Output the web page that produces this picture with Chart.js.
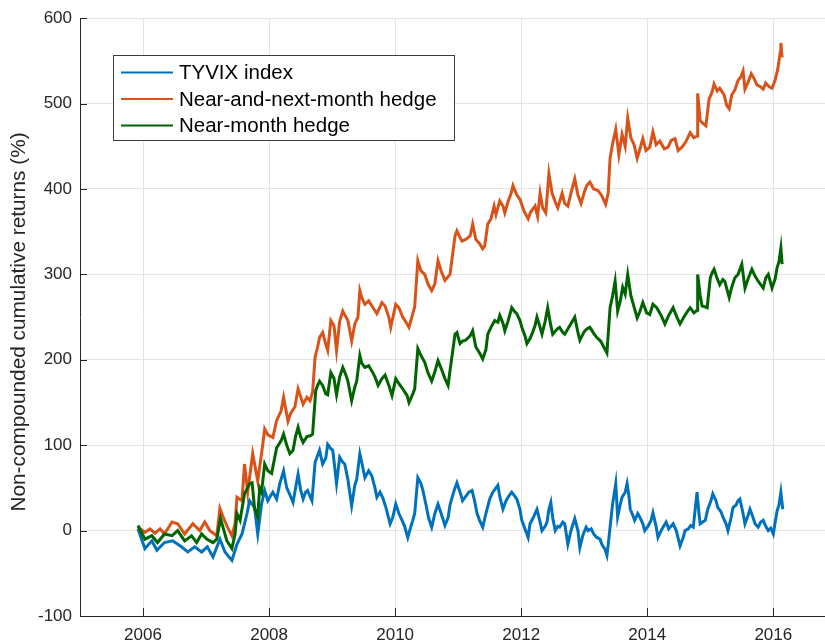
<!DOCTYPE html>
<html lang="en">
<head>
    <meta charset="UTF-8">
    <title>TYVIX hedges</title>
    <script src="https://cdn.jsdelivr.net/npm/chart.js"></script>
    <style>
        body { margin: 0; background: #fff; }
        #wrap { width: 825px; height: 641px; }
    </style>
</head>
<body>
    <div id="wrap"><canvas id="chart" width="825" height="641"></canvas></div>

    <script>
        // series labels and colours (legend order)
        const seriesLabels = ['TYVIX index', 'Near-and-next-month hedge', 'Near-month hedge'];
        const seriesColors = ['#0072BD', '#D95319', '#006400'];
        const tickYears = [2006, 2008, 2010, 2012, 2014, 2016];
        const yTitle = 'Non-compounded cumulative returns (%)';

        // [decimal year, cumulative return %]
        const tyvixSeries = [
            [2005.92, 2], [2006.03, -21], [2006.14, -12], [2006.22, -23], [2006.34, -14], [2006.47, -12],
            [2006.61, -19], [2006.71, -25], [2006.82, -19], [2006.93, -25], [2007.02, -19], [2007.11, -31],
            [2007.22, -10], [2007.30, -25], [2007.41, -35], [2007.49, -16], [2007.57, -4], [2007.65, 20],
            [2007.69, 35], [2007.77, 27], [2007.82, -4], [2007.88, 31], [2007.93, 47], [2007.98, 35],
            [2008.01, 39], [2008.06, 45], [2008.12, 37], [2008.17, 55], [2008.23, 70], [2008.28, 50],
            [2008.33, 42], [2008.38, 33], [2008.42, 50], [2008.46, 66], [2008.50, 48], [2008.54, 37],
            [2008.58, 45], [2008.61, 47], [2008.65, 40], [2008.68, 35], [2008.73, 80], [2008.77, 88],
            [2008.80, 94], [2008.85, 78], [2008.90, 85], [2008.93, 101], [2008.98, 96], [2009.01, 94],
            [2009.04, 75], [2009.07, 55], [2009.12, 86], [2009.17, 80], [2009.20, 78], [2009.25, 60],
            [2009.31, 29], [2009.36, 53], [2009.39, 60], [2009.44, 90], [2009.47, 80], [2009.52, 62],
            [2009.58, 70], [2009.63, 64], [2009.68, 50], [2009.71, 39], [2009.76, 45], [2009.80, 39],
            [2009.85, 28], [2009.92, 8], [2009.96, 15], [2010.01, 31], [2010.06, 20], [2010.11, 12],
            [2010.15, 5], [2010.20, -8], [2010.25, 5], [2010.28, 12], [2010.31, 20], [2010.36, 62],
            [2010.41, 55], [2010.44, 47], [2010.49, 30], [2010.53, 15], [2010.58, 4], [2010.63, 20],
            [2010.68, 31], [2010.73, 20], [2010.79, 6], [2010.84, 15], [2010.87, 30], [2010.92, 43],
            [2010.95, 50], [2010.98, 56], [2011.03, 45], [2011.07, 35], [2011.12, 40], [2011.17, 45],
            [2011.22, 47], [2011.26, 35], [2011.30, 20], [2011.34, 12], [2011.39, 4], [2011.44, 20],
            [2011.50, 37], [2011.55, 45], [2011.58, 48], [2011.63, 53], [2011.66, 40], [2011.71, 25],
            [2011.76, 35], [2011.80, 40], [2011.85, 45], [2011.90, 40], [2011.93, 37], [2011.98, 25],
            [2012.01, 12], [2012.06, 2], [2012.11, -8], [2012.14, 8], [2012.19, 15], [2012.25, 25],
            [2012.30, 10], [2012.33, 0], [2012.38, 5], [2012.41, 10], [2012.44, 25], [2012.47, 33],
            [2012.50, 15], [2012.54, 0], [2012.58, 5], [2012.61, 4], [2012.66, 10], [2012.69, 8],
            [2012.74, -16], [2012.79, 0], [2012.85, 14], [2012.90, 0], [2012.93, -20], [2012.98, -5],
            [2013.03, 4], [2013.06, 0], [2013.11, 2], [2013.15, -4], [2013.20, -8], [2013.25, -10],
            [2013.28, -16], [2013.33, -22], [2013.36, -29], [2013.39, -10], [2013.41, 4], [2013.45, 31],
            [2013.50, 55], [2013.53, 16], [2013.57, 30], [2013.60, 39], [2013.65, 45], [2013.68, 55],
            [2013.71, 40], [2013.73, 25], [2013.77, 18], [2013.80, 12], [2013.85, 20], [2013.88, 16],
            [2013.93, 8], [2013.96, 0], [2014.01, 5], [2014.06, 12], [2014.09, 21], [2014.14, 5],
            [2014.17, -8], [2014.22, 0], [2014.25, 4], [2014.30, 10], [2014.34, 2], [2014.41, 8],
            [2014.46, 0], [2014.52, -18], [2014.57, -8], [2014.60, 0], [2014.65, 2], [2014.69, 6],
            [2014.73, 4], [2014.79, 45], [2014.82, 20], [2014.84, 8], [2014.88, 10], [2014.92, 12],
            [2014.96, 25], [2015.01, 35], [2015.04, 43], [2015.09, 35], [2015.12, 27], [2015.17, 22],
            [2015.20, 16], [2015.25, 8], [2015.28, 0], [2015.33, 15], [2015.36, 27], [2015.41, 30],
            [2015.44, 35], [2015.47, 37], [2015.52, 20], [2015.55, 8], [2015.60, 18], [2015.63, 25],
            [2015.68, 15], [2015.71, 8], [2015.76, 4], [2015.80, 10], [2015.84, 12], [2015.88, 5],
            [2015.92, 0], [2015.96, 3], [2016.00, -4], [2016.03, 10], [2016.06, 23], [2016.09, 30],
            [2016.12, 45], [2016.15, 25]
        ];

        const nextMonthSeries = [
            [2005.92, 4], [2006.03, -2], [2006.11, 2], [2006.19, -3], [2006.27, 2], [2006.34, -4],
            [2006.46, 10], [2006.55, 8], [2006.66, -4], [2006.79, 8], [2006.90, 0], [2006.98, 10],
            [2007.06, 0], [2007.17, -6], [2007.22, 26], [2007.27, 16], [2007.34, 4], [2007.41, -6],
            [2007.46, 8], [2007.49, 39], [2007.57, 35], [2007.61, 78], [2007.66, 45], [2007.74, 90],
            [2007.82, 58], [2007.90, 101], [2007.93, 119], [2007.98, 112], [2008.06, 109], [2008.12, 129],
            [2008.19, 140], [2008.23, 156], [2008.30, 128], [2008.34, 137], [2008.41, 145], [2008.46, 166],
            [2008.54, 148], [2008.60, 156], [2008.65, 152], [2008.69, 162], [2008.73, 203], [2008.77, 215],
            [2008.80, 226], [2008.85, 232], [2008.90, 218], [2008.93, 211], [2008.98, 246], [2009.03, 240],
            [2009.07, 211], [2009.12, 245], [2009.17, 257], [2009.22, 250], [2009.25, 246], [2009.31, 222],
            [2009.36, 242], [2009.41, 250], [2009.44, 281], [2009.47, 273], [2009.52, 265], [2009.58, 269],
            [2009.65, 261], [2009.71, 254], [2009.79, 267], [2009.84, 263], [2009.90, 250], [2009.93, 238],
            [2010.01, 265], [2010.06, 261], [2010.12, 250], [2010.19, 242], [2010.22, 238], [2010.28, 254],
            [2010.31, 262], [2010.36, 316], [2010.41, 304], [2010.47, 300], [2010.52, 289], [2010.58, 281],
            [2010.63, 289], [2010.68, 316], [2010.73, 304], [2010.79, 293], [2010.87, 300], [2010.92, 328],
            [2010.95, 345], [2010.98, 351], [2011.03, 343], [2011.06, 339], [2011.12, 341], [2011.19, 345],
            [2011.23, 359], [2011.28, 341], [2011.34, 336], [2011.39, 330], [2011.42, 333], [2011.47, 359],
            [2011.52, 365], [2011.57, 380], [2011.60, 370], [2011.66, 386], [2011.71, 380], [2011.74, 372],
            [2011.79, 385], [2011.84, 395], [2011.87, 404], [2011.93, 393], [2011.98, 388], [2012.04, 375],
            [2012.11, 365], [2012.15, 373], [2012.22, 380], [2012.26, 368], [2012.30, 395], [2012.34, 378],
            [2012.39, 372], [2012.44, 418], [2012.49, 395], [2012.54, 385], [2012.58, 378], [2012.65, 395],
            [2012.69, 383], [2012.74, 380], [2012.80, 398], [2012.85, 412], [2012.90, 393], [2012.95, 383],
            [2013.00, 396], [2013.04, 404], [2013.09, 408], [2013.15, 400], [2013.22, 398], [2013.28, 392],
            [2013.34, 382], [2013.38, 395], [2013.41, 436], [2013.45, 453], [2013.50, 470], [2013.55, 440],
            [2013.60, 464], [2013.65, 450], [2013.69, 483], [2013.74, 460], [2013.79, 452], [2013.84, 436],
            [2013.88, 446], [2013.93, 459], [2013.98, 445], [2014.04, 449], [2014.09, 467], [2014.14, 452],
            [2014.20, 456], [2014.27, 447], [2014.33, 449], [2014.38, 457], [2014.44, 459], [2014.49, 445],
            [2014.55, 449], [2014.61, 455], [2014.68, 466], [2014.74, 460], [2014.79, 462], [2014.80, 512],
            [2014.84, 480], [2014.88, 477], [2014.93, 474], [2014.98, 505], [2015.03, 514], [2015.06, 523],
            [2015.11, 515], [2015.15, 518], [2015.22, 510], [2015.26, 498], [2015.30, 494], [2015.34, 510],
            [2015.39, 516], [2015.44, 527], [2015.49, 532], [2015.52, 538], [2015.55, 517], [2015.60, 525],
            [2015.65, 535], [2015.69, 530], [2015.74, 522], [2015.79, 520], [2015.84, 517], [2015.88, 524],
            [2015.93, 520], [2015.98, 518], [2016.03, 528], [2016.07, 540], [2016.11, 560], [2016.12, 571],
            [2016.14, 554]
        ];

        const nearMonthSeries = [
            [2005.92, 6], [2006.03, -10], [2006.14, -6], [2006.23, -14], [2006.34, -4], [2006.46, -6],
            [2006.55, 0], [2006.66, -12], [2006.77, -6], [2006.85, -14], [2006.93, -4], [2007.01, -10],
            [2007.11, -14], [2007.17, -10], [2007.23, 14], [2007.33, -12], [2007.41, -21], [2007.46, -4],
            [2007.49, 20], [2007.54, 12], [2007.61, 43], [2007.69, 55], [2007.73, 56], [2007.77, 26],
            [2007.82, 16], [2007.85, 50], [2007.88, 45], [2007.93, 78], [2007.98, 70], [2008.04, 67],
            [2008.12, 97], [2008.19, 105], [2008.23, 113], [2008.28, 100], [2008.33, 90], [2008.38, 94],
            [2008.42, 110], [2008.46, 121], [2008.50, 110], [2008.54, 103], [2008.60, 110], [2008.65, 111],
            [2008.69, 113], [2008.74, 164], [2008.77, 170], [2008.80, 175], [2008.85, 170], [2008.90, 160],
            [2008.93, 159], [2008.98, 185], [2009.03, 178], [2009.07, 159], [2009.12, 180], [2009.17, 191],
            [2009.22, 182], [2009.25, 175], [2009.31, 152], [2009.36, 168], [2009.39, 175], [2009.44, 205],
            [2009.47, 196], [2009.52, 191], [2009.58, 193], [2009.63, 187], [2009.68, 180], [2009.73, 170],
            [2009.79, 178], [2009.84, 182], [2009.90, 170], [2009.95, 158], [2010.01, 178], [2010.06, 172],
            [2010.12, 166], [2010.19, 158], [2010.22, 150], [2010.28, 160], [2010.31, 166], [2010.36, 213],
            [2010.41, 205], [2010.47, 197], [2010.52, 185], [2010.58, 175], [2010.63, 186], [2010.68, 199],
            [2010.73, 190], [2010.79, 178], [2010.84, 170], [2010.87, 187], [2010.92, 214], [2010.95, 230],
            [2010.98, 232], [2011.03, 219], [2011.07, 222], [2011.12, 223], [2011.19, 228], [2011.23, 234],
            [2011.28, 215], [2011.34, 208], [2011.39, 201], [2011.44, 212], [2011.47, 230], [2011.52, 238],
            [2011.58, 246], [2011.63, 244], [2011.66, 252], [2011.71, 243], [2011.74, 234], [2011.79, 245],
            [2011.85, 261], [2011.90, 256], [2011.93, 254], [2011.98, 246], [2012.01, 238], [2012.06, 228],
            [2012.09, 219], [2012.14, 225], [2012.17, 230], [2012.22, 240], [2012.25, 250], [2012.30, 238],
            [2012.33, 230], [2012.38, 245], [2012.42, 261], [2012.47, 240], [2012.50, 230], [2012.57, 236],
            [2012.61, 238], [2012.66, 232], [2012.69, 230], [2012.77, 240], [2012.85, 250], [2012.90, 232],
            [2012.93, 223], [2013.00, 233], [2013.04, 236], [2013.09, 238], [2013.15, 231], [2013.20, 226],
            [2013.26, 222], [2013.31, 215], [2013.36, 208], [2013.41, 261], [2013.45, 275], [2013.49, 292],
            [2013.53, 257], [2013.57, 268], [2013.61, 285], [2013.65, 277], [2013.69, 300], [2013.74, 275],
            [2013.79, 262], [2013.84, 249], [2013.88, 256], [2013.93, 267], [2013.99, 255], [2014.04, 253],
            [2014.09, 265], [2014.15, 261], [2014.22, 252], [2014.28, 242], [2014.34, 252], [2014.41, 261],
            [2014.47, 250], [2014.52, 242], [2014.58, 250], [2014.65, 258], [2014.68, 261], [2014.74, 255],
            [2014.79, 258], [2014.80, 300], [2014.84, 275], [2014.87, 263], [2014.92, 262], [2014.95, 261],
            [2015.00, 296], [2015.03, 302], [2015.06, 306], [2015.11, 295], [2015.15, 288], [2015.20, 294],
            [2015.23, 292], [2015.30, 273], [2015.34, 285], [2015.39, 296], [2015.44, 300], [2015.50, 312],
            [2015.55, 284], [2015.60, 295], [2015.66, 306], [2015.71, 298], [2015.76, 292], [2015.80, 288],
            [2015.84, 284], [2015.88, 296], [2015.92, 300], [2015.98, 284], [2016.03, 295], [2016.06, 308],
            [2016.09, 315], [2016.12, 331], [2016.14, 312]
        ];

        const textColor = '#262626';
        const fontFamily = '"Liberation Sans", Arial, Helvetica, sans-serif';

        function toPoints(pairs) {
            return pairs.map(p => ({ x: p[0], y: p[1] }));
        }

        // MATLAB style ticks pointing into the plot, y label, boxed legend
        const matlabBits = {
            id: 'matlabBits',
            afterDatasetsDraw(chart) {
                const ctx = chart.ctx;
                const area = chart.chartArea;
                const xs = chart.scales.x, ys = chart.scales.y;
                ctx.save();
                ctx.strokeStyle = textColor;
                ctx.lineWidth = 1;
                ctx.beginPath();
                ys.ticks.forEach(t => {
                    const py = Math.round(ys.getPixelForValue(t.value)) + 0.5;
                    ctx.moveTo(area.left, py);
                    ctx.lineTo(area.left + 7, py);
                });
                xs.ticks.forEach(t => {
                    const px = Math.round(xs.getPixelForValue(t.value)) + 0.5;
                    ctx.moveTo(px, area.bottom);
                    ctx.lineTo(px, area.bottom - 8);
                });
                ctx.stroke();

                // y axis label
                ctx.save();
                ctx.translate(19, 322);
                ctx.rotate(-Math.PI / 2);
                ctx.font = '20.8px ' + fontFamily;
                ctx.fillStyle = textColor;
                ctx.textAlign = 'center';
                ctx.textBaseline = 'middle';
                ctx.fillText(yTitle, 0, 0);
                ctx.restore();

                // legend box
                const bx = 113.5, by = 55.5, bw = 341, bh = 85;
                ctx.fillStyle = '#ffffff';
                ctx.fillRect(bx, by, bw, bh);
                ctx.strokeStyle = '#3c3c3c';
                ctx.strokeRect(bx, by, bw, bh);
                ctx.font = '20.5px ' + fontFamily;
                ctx.textBaseline = 'middle';
                ctx.fillStyle = '#000000';
                seriesLabels.forEach((label, i) => {
                    const cy = 72.5 + i * 26.5;
                    ctx.strokeStyle = seriesColors[i];
                    ctx.lineWidth = 2;
                    ctx.beginPath();
                    ctx.moveTo(121, cy);
                    ctx.lineTo(173, cy);
                    ctx.stroke();
                    ctx.fillText(label, 179, cy + 1);
                });
                ctx.restore();
            }
        };

        // green drawn on top, then orange, blue underneath
        const series = [
            { data: toPoints(tyvixSeries), order: 2 },
            { data: toPoints(nextMonthSeries), order: 1 },
            { data: toPoints(nearMonthSeries), order: 0 }
        ];

        new Chart(document.getElementById('chart').getContext('2d'), {
            type: 'line',
            data: {
                datasets: series.map((s, i) => ({
                    label: seriesLabels[i],
                    data: s.data,
                    order: s.order,
                    borderColor: seriesColors[i],
                    borderWidth: 3,
                    pointRadius: 0,
                    tension: 0,
                    fill: false
                }))
            },
            options: {
                responsive: false,
                animation: false,
                layout: { padding: { top: 17, right: 0, bottom: 0, left: 0 } },
                plugins: {
                    legend: { display: false },
                    tooltip: { enabled: false }
                },
                scales: {
                    x: {
                        type: 'linear',
                        min: 2005,
                        max: 2016.82,
                        afterBuildTicks: scale => { scale.ticks = tickYears.map(v => ({ value: v })); },
                        afterFit: scale => { scale.height = 25; },
                        grid: { color: '#e3e3e3', drawTicks: false },
                        border: { color: textColor, width: 1 },
                        ticks: {
                            padding: 9,
                            color: textColor,
                            font: { family: fontFamily, size: 17 },
                            callback: v => String(v)
                        }
                    },
                    y: {
                        min: -100,
                        max: 600,
                        afterFit: scale => { scale.width = 80; },
                        grid: { color: '#e3e3e3', drawTicks: false },
                        border: { color: textColor, width: 1 },
                        ticks: {
                            stepSize: 100,
                            padding: 8,
                            color: textColor,
                            font: { family: fontFamily, size: 17 }
                        }
                    }
                }
            },
            plugins: [matlabBits]
        });
    </script>
</body>
</html>
